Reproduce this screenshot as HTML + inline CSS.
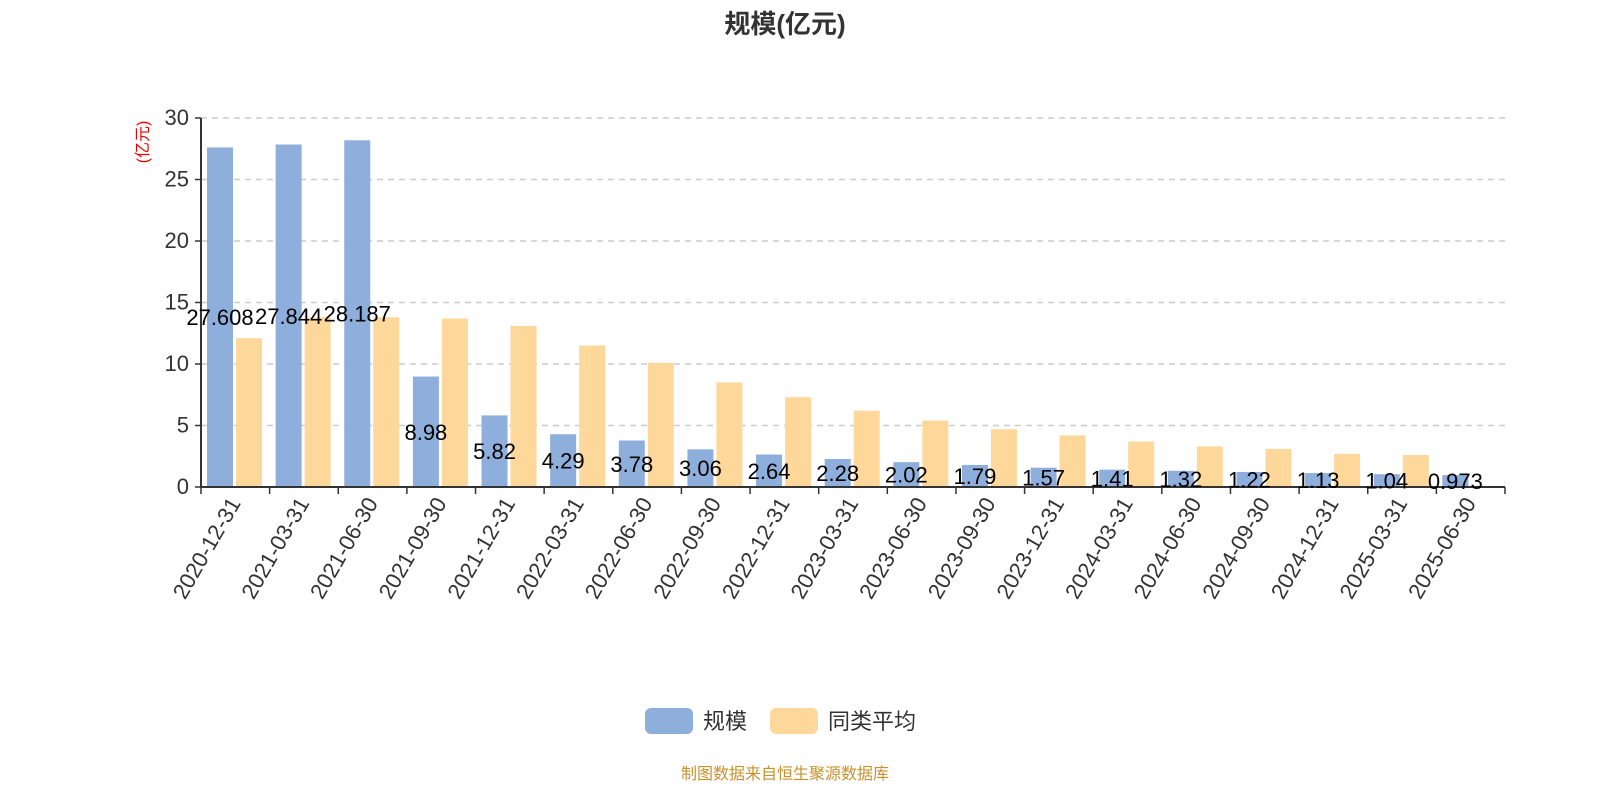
<!DOCTYPE html>
<html><head><meta charset="utf-8"><style>
body{margin:0;background:#fff;width:1600px;height:800px;overflow:hidden}
svg text{font-family:"Liberation Sans","Noto Sans CJK SC",sans-serif}
</style></head><body>
<svg id="chart" width="1600" height="800" xmlns="http://www.w3.org/2000/svg">
<text x="785" y="33" text-anchor="middle" font-size="26" font-weight="bold" fill="#333">规模(亿元)</text>
<text transform="translate(148,142) rotate(-90)" text-anchor="middle" font-size="16" fill="#e00">(亿元)</text>
<g id="grid"></g><g id="bars"></g><g id="axes"></g><g id="labels"></g>
<g>
<rect x="645" y="708" width="48" height="26" rx="6" fill="#8eaedb"/>
<text x="703" y="729" font-size="22" fill="#333">规模</text>
<rect x="770" y="708" width="48" height="26" rx="6" fill="#fed89a"/>
<text x="828" y="729" font-size="22" fill="#333">同类平均</text>
</g>
<text x="785" y="779" text-anchor="middle" font-size="16" fill="#c8912b">制图数据来自恒生聚源数据库</text>
</svg>
<script>
const categories=["2020-12-31","2021-03-31","2021-06-30","2021-09-30","2021-12-31","2022-03-31","2022-06-30","2022-09-30","2022-12-31","2023-03-31","2023-06-30","2023-09-30","2023-12-31","2024-03-31","2024-06-30","2024-09-30","2024-12-31","2025-03-31","2025-06-30"];
const scaleValues=[27.608,27.844,28.187,8.98,5.82,4.29,3.78,3.06,2.64,2.28,2.02,1.79,1.57,1.41,1.32,1.22,1.13,1.04,0.973];
const scaleLabels=["27.608","27.844","28.187","8.98","5.82","4.29","3.78","3.06","2.64","2.28","2.02","1.79","1.57","1.41","1.32","1.22","1.13","1.04","0.973"];
const avgValues=[12.1,13.8,13.8,13.7,13.1,11.5,10.1,8.5,7.3,6.2,5.4,4.7,4.2,3.7,3.3,3.1,2.7,2.6,null];
const yTicks=[0,5,10,15,20,25,30];
const NS="http://www.w3.org/2000/svg";
const X0=201,X1=1505,Y0=487,Y1=118,YMAX=30;
const band=(X1-X0)/categories.length;
const y=v=>Y0-(v/YMAX)*(Y0-Y1);
const xb=i=>X0+i*band;
function mk(tag,attrs,parent,text){const e=document.createElementNS(NS,tag);for(const k in attrs)e.setAttribute(k,attrs[k]);if(text!==undefined)e.textContent=text;document.getElementById(parent).appendChild(e);return e;}
yTicks.forEach(t=>{
 if(t>0){const g=mk('line',{x1:X0,x2:X1,y1:y(t),y2:y(t),stroke:'#ccc','stroke-width':1.5,'stroke-dasharray':'6,5'},'grid');
 
 }
 const tk=mk('line',{x1:X0-6,x2:X0,y1:y(t),y2:y(t),stroke:'#333','stroke-width':1.5},'axes');
 
 
 const tl=mk('text',{x:X0-12,y:y(t)+7,'text-anchor':'end','font-size':22,fill:'#333'},'axes',String(t));
 
 
});
categories.forEach((c,i)=>{
 const b=xb(i);
 const r=mk('rect',{x:b+6,y:y(scaleValues[i]),width:26,height:Y0-y(scaleValues[i]),fill:'#8eaedb'},'bars');
 
 
 if(avgValues[i]!=null){const r2=mk('rect',{x:b+35,y:y(avgValues[i]),width:26,height:Y0-y(avgValues[i]),fill:'#fed89a'},'bars');
 
 }
 const lb=mk('text',{x:b+19,y:(y(scaleValues[i])+Y0)/2+8,'text-anchor':'middle','font-size':22,fill:'#000'},'labels',scaleLabels[i]);
 
 
 const tk=mk('line',{x1:b,x2:b,y1:Y0,y2:Y0+7,stroke:'#333','stroke-width':1.5},'axes');
 
 
 const cx=b+band/2+6,cy=Y0+16;
 const xl=mk('text',{transform:`translate(${cx},${cy}) rotate(-60)`,'text-anchor':'end','font-size':22,fill:'#333'},'axes',c);
 
 
});
const et=mk('line',{x1:X1,x2:X1,y1:Y0,y2:Y0+7,stroke:'#333','stroke-width':1.5},'axes');


const ya=mk('line',{x1:X0,x2:X0,y1:Y1,y2:Y0,stroke:'#333','stroke-width':2},'axes');


const xa=mk('line',{x1:X0,x2:X1,y1:Y0,y2:Y0,stroke:'#333','stroke-width':2},'axes');


</script>
</body></html>
